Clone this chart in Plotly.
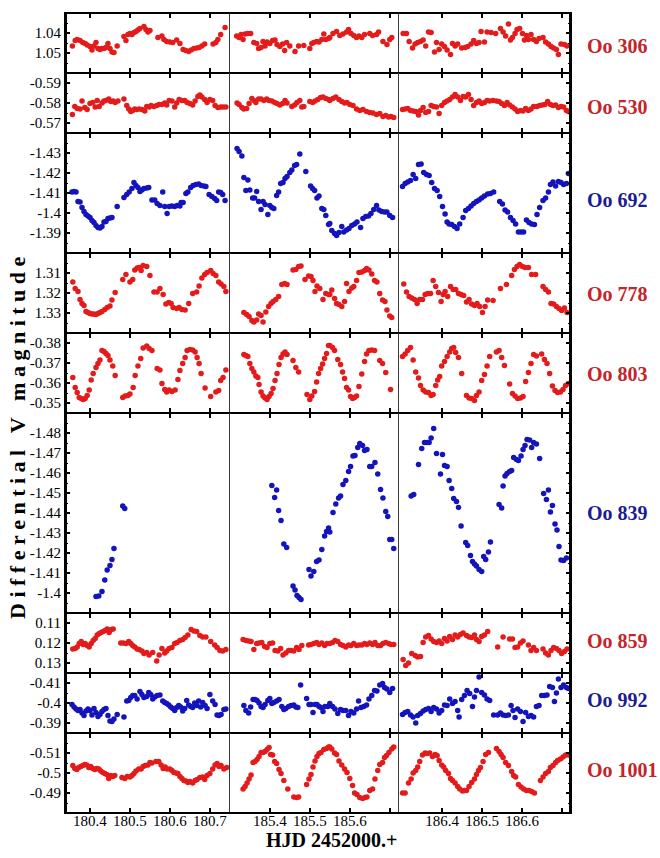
import plotly.graph_objects as go
from plotly.subplots import make_subplots

# ---------------- data: (HJD - 2452000, differential V magnitude) ----------------
OO306 = [(180.356,1.0465),(180.363,1.0438),(180.368,1.0432),(180.375,1.0438),(180.382,1.0448),(180.388,1.0453),(180.393,1.046),(180.4,1.0468),(180.405,1.0485),(180.41,1.0465),(180.415,1.0448),(180.42,1.0478),(180.425,1.0482),(180.43,1.0477),(180.435,1.0478),(180.44,1.0472),(180.445,1.0452),(180.45,1.0477),(180.455,1.0495),(180.46,1.0498),(180.468,1.0465),(180.485,1.0418),(180.49,1.0438),(180.495,1.0408),(180.5,1.0402),(180.505,1.0408),(180.51,1.0398),(180.515,1.0392),(180.52,1.0385),(180.525,1.0378),(180.535,1.0368),(180.54,1.0382),(180.545,1.0395),(180.55,1.0388),(180.57,1.0422),(180.58,1.0415),(180.585,1.0432),(180.592,1.0442),(180.6,1.0445),(180.607,1.0448),(180.617,1.0435),(180.625,1.0452),(180.633,1.0482),(180.64,1.0488),(180.647,1.0492),(180.653,1.0485),(180.66,1.0478),(180.667,1.0475),(180.673,1.0472),(180.68,1.0465),(180.687,1.0455),(180.708,1.0455),(180.715,1.0448),(180.72,1.0432),(180.727,1.0408),(180.738,1.0372),
(185.317,1.0415),(185.323,1.0422),(185.328,1.0408),(185.333,1.0432),(185.338,1.0405),(185.345,1.0402),(185.352,1.0402),(185.36,1.0448),(185.367,1.0452),(185.372,1.0478),(185.378,1.0472),(185.383,1.0442),(185.388,1.0465),(185.393,1.0445),(185.4,1.0452),(185.407,1.0438),(185.413,1.0435),(185.418,1.0458),(185.425,1.0468),(185.432,1.0455),(185.437,1.0488),(185.442,1.0448),(185.45,1.0465),(185.463,1.0492),(185.472,1.0465),(185.485,1.0462),(185.5,1.0478),(185.505,1.0452),(185.51,1.0448),(185.517,1.0442),(185.523,1.0445),(185.53,1.0432),(185.535,1.0405),(185.54,1.0432),(185.547,1.0427),(185.55,1.0422),(185.558,1.0402),(185.567,1.0392),(185.575,1.0412),(185.583,1.0405),(185.592,1.0395),(185.597,1.0382),(185.603,1.0402),(185.61,1.0412),(185.617,1.0422),(185.623,1.0415),(185.63,1.0422),(185.637,1.0408),(185.65,1.0402),(185.657,1.0412),(185.667,1.0408),(185.672,1.0395),(185.683,1.0442),(185.693,1.0458),(185.7,1.0432),(185.705,1.0422),
(186.3025,1.0402),(186.311,1.0402),(186.3175,1.0442),(186.326,1.0475),(186.3325,1.0455),(186.339,1.0448),(186.346,1.0442),(186.3525,1.0435),(186.359,1.0465),(186.366,1.0395),(186.3725,1.0398),(186.381,1.0495),(186.386,1.0448),(186.3925,1.0482),(186.399,1.0455),(186.406,1.0468),(186.4125,1.0485),(186.421,1.0508),(186.426,1.0452),(186.4325,1.0465),(186.439,1.0455),(186.449,1.0475),(186.4575,1.0472),(186.464,1.0468),(186.4725,1.0455),(186.479,1.0438),(186.486,1.0452),(186.4925,1.0448),(186.4975,1.0392),(186.506,1.0445),(186.5125,1.0395),(186.5225,1.0398),(186.534,1.0402),(186.546,1.0378),(186.5525,1.0395),(186.559,1.0415),(186.566,1.0355),(186.571,1.0435),(186.576,1.0422),(186.5825,1.0402),(186.5875,1.0382),(186.594,1.0378),(186.601,1.0402),(186.606,1.0435),(186.611,1.0412),(186.616,1.0432),(186.6225,1.0408),(186.629,1.0432),(186.636,1.0442),(186.6425,1.0428),(186.6525,1.0422),(186.659,1.0445),(186.666,1.0455),(186.6725,1.0468),(186.679,1.0475),(186.686,1.0482),(186.691,1.0508),(186.6975,1.0455),(186.706,1.0458),(186.7125,1.0465)]

OO530 = [(180.356,-0.5743),(180.362,-0.5783),(180.368,-0.5773),(180.375,-0.577),(180.38,-0.581),(180.387,-0.5777),(180.393,-0.5767),(180.4,-0.5797),(180.407,-0.5803),(180.413,-0.578),(180.418,-0.5813),(180.423,-0.5783),(180.43,-0.58),(180.435,-0.581),(180.44,-0.5813),(180.447,-0.582),(180.452,-0.5807),(180.458,-0.581),(180.463,-0.5803),(180.47,-0.581),(180.485,-0.582),(180.492,-0.5787),(180.497,-0.577),(180.502,-0.5757),(180.507,-0.5763),(180.512,-0.577),(180.517,-0.5767),(180.523,-0.577),(180.53,-0.5767),(180.537,-0.576),(180.542,-0.5783),(180.548,-0.578),(180.553,-0.5787),(180.56,-0.5783),(180.567,-0.5787),(180.573,-0.5793),(180.58,-0.5793),(180.587,-0.58),(180.592,-0.579),(180.598,-0.5813),(180.605,-0.581),(180.612,-0.578),(180.617,-0.58),(180.623,-0.5817),(180.63,-0.5813),(180.637,-0.5813),(180.643,-0.5803),(180.65,-0.5797),(180.657,-0.579),(180.663,-0.581),(180.67,-0.5833),(180.675,-0.584),(180.68,-0.583),(180.687,-0.5817),(180.693,-0.5803),(180.7,-0.5817),(180.707,-0.5813),(180.713,-0.5787),(180.72,-0.5777),(180.727,-0.578),(180.733,-0.578),(180.74,-0.578),
(185.318,-0.58),(185.323,-0.5793),(185.33,-0.5777),(185.335,-0.577),(185.342,-0.5773),(185.348,-0.5797),(185.355,-0.5823),(185.36,-0.5813),(185.365,-0.5803),(185.372,-0.582),(185.378,-0.582),(185.385,-0.5813),(185.392,-0.582),(185.398,-0.5813),(185.405,-0.581),(185.412,-0.5803),(185.418,-0.5797),(185.425,-0.579),(185.432,-0.5797),(185.438,-0.5813),(185.443,-0.58),(185.455,-0.5783),(185.462,-0.579),(185.468,-0.5803),(185.475,-0.5813),(185.48,-0.578),(185.485,-0.5783),(185.5,-0.5807),(185.507,-0.5803),(185.513,-0.581),(185.52,-0.5817),(185.527,-0.5827),(185.533,-0.583),(185.54,-0.5823),(185.547,-0.5817),(185.55,-0.5813),(185.558,-0.5823),(185.565,-0.583),(185.573,-0.5817),(185.58,-0.5807),(185.587,-0.58),(185.593,-0.5803),(185.6,-0.5793),(185.608,-0.5787),(185.617,-0.577),(185.625,-0.5763),(185.633,-0.5767),(185.642,-0.5757),(185.65,-0.5753),(185.658,-0.575),(185.667,-0.5743),(185.675,-0.5747),(185.683,-0.5733),(185.69,-0.5737),(185.697,-0.573),(185.703,-0.5733),(185.71,-0.5727),
(186.301,-0.5767),(186.3075,-0.577),(186.314,-0.5773),(186.321,-0.5763),(186.3275,-0.576),(186.334,-0.5757),(186.341,-0.574),(186.346,-0.5763),(186.3525,-0.5777),(186.359,-0.5753),(186.366,-0.5757),(186.3725,-0.5787),(186.379,-0.5783),(186.386,-0.578),(186.3925,-0.5747),(186.399,-0.5787),(186.406,-0.5803),(186.4125,-0.581),(186.419,-0.5817),(186.426,-0.583),(186.4325,-0.5843),(186.439,-0.583),(186.446,-0.5813),(186.4525,-0.5833),(186.459,-0.583),(186.466,-0.5843),(186.4725,-0.5817),(186.479,-0.5787),(186.486,-0.5803),(186.4925,-0.581),(186.499,-0.5797),(186.506,-0.5803),(186.5125,-0.5813),(186.519,-0.581),(186.5275,-0.5813),(186.536,-0.581),(186.5425,-0.5807),(186.549,-0.5797),(186.556,-0.5787),(186.5625,-0.5803),(186.569,-0.579),(186.576,-0.578),(186.5825,-0.577),(186.589,-0.5757),(186.596,-0.5763),(186.6025,-0.576),(186.609,-0.5773),(186.616,-0.5763),(186.6225,-0.577),(186.629,-0.5783),(186.6375,-0.5783),(186.644,-0.5787),(186.651,-0.579),(186.6575,-0.5793),(186.664,-0.5807),(186.671,-0.5793),(186.6775,-0.5787),(186.684,-0.579),(186.691,-0.5777),(186.6975,-0.5783),(186.704,-0.578),(186.711,-0.5763),(186.716,-0.5757)]

OO692 = [(180.355,-1.4105),(180.36,-1.4108),(180.365,-1.4105),(180.37,-1.4058),(180.375,-1.4055),(180.38,-1.4028),(180.385,-1.4008),(180.39,-1.3992),(180.395,-1.3985),(180.4,-1.3978),(180.405,-1.3962),(180.41,-1.3952),(180.415,-1.3938),(180.42,-1.3928),(180.425,-1.3925),(180.43,-1.3932),(180.435,-1.3955),(180.44,-1.3958),(180.445,-1.3972),(180.45,-1.3975),(180.455,-1.3978),(180.468,-1.4032),(180.485,-1.4078),(180.492,-1.4092),(180.498,-1.4105),(180.505,-1.4122),(180.51,-1.4152),(180.515,-1.4138),(180.52,-1.4128),(180.525,-1.4108),(180.53,-1.4115),(180.535,-1.4122),(180.542,-1.4125),(180.547,-1.4128),(180.555,-1.4065),(180.562,-1.4065),(180.568,-1.4048),(180.575,-1.4038),(180.582,-1.4105),(180.587,-1.4032),(180.593,-1.3998),(180.598,-1.4032),(180.605,-1.4035),(180.612,-1.4032),(180.618,-1.4038),(180.625,-1.4035),(180.628,-1.4052),(180.633,-1.4052),(180.64,-1.4098),(180.645,-1.4105),(180.652,-1.4128),(180.658,-1.4138),(180.665,-1.4142),(180.672,-1.4145),(180.678,-1.4138),(180.685,-1.4135),(180.69,-1.4132),(180.698,-1.4092),(180.705,-1.4082),(180.712,-1.4072),(180.717,-1.4062),(180.722,-1.4105),(180.727,-1.4102),(180.732,-1.4092),(180.738,-1.4062),
(185.318,-1.4322),(185.323,-1.4308),(185.33,-1.4285),(185.335,-1.4178),(185.34,-1.4112),(185.345,-1.4165),(185.35,-1.4115),(185.357,-1.4075),(185.362,-1.4075),(185.367,-1.4108),(185.372,-1.4058),(185.378,-1.4018),(185.383,-1.4058),(185.388,-1.4042),(185.395,-1.3992),(185.4,-1.4038),(185.405,-1.4028),(185.41,-1.4022),(185.417,-1.4088),(185.422,-1.4105),(185.427,-1.4148),(185.433,-1.4152),(185.438,-1.4172),(185.443,-1.4182),(185.45,-1.4202),(185.455,-1.4215),(185.462,-1.4238),(185.467,-1.4242),(185.475,-1.4295),(185.49,-1.4208),(185.502,-1.4135),(185.507,-1.4122),(185.512,-1.4112),(185.518,-1.4075),(185.523,-1.4085),(185.53,-1.4022),(185.535,-1.4018),(185.54,-1.3988),(185.547,-1.3942),(185.55,-1.3948),(185.555,-1.3912),(185.562,-1.3898),(185.567,-1.3888),(185.573,-1.3902),(185.58,-1.3932),(185.585,-1.3905),(185.592,-1.3915),(185.598,-1.3922),(185.605,-1.3938),(185.612,-1.3945),(185.618,-1.3955),(185.627,-1.3928),(185.633,-1.3972),(185.64,-1.3982),(185.647,-1.3985),(185.653,-1.3998),(185.66,-1.4018),(185.667,-1.4038),(185.673,-1.4015),(185.68,-1.4008),(185.687,-1.4005),(185.693,-1.4005),(185.7,-1.3988),(185.707,-1.3978),
(186.301,-1.4132),(186.3075,-1.4148),(186.314,-1.4155),(186.321,-1.4162),(186.3275,-1.4192),(186.334,-1.4172),(186.341,-1.4242),(186.3475,-1.4245),(186.354,-1.4202),(186.361,-1.4192),(186.3675,-1.4188),(186.374,-1.4152),(186.381,-1.4122),(186.3875,-1.4112),(186.394,-1.4082),(186.401,-1.4032),(186.4075,-1.3995),(186.4125,-1.3955),(186.4175,-1.3945),(186.424,-1.3942),(186.431,-1.3932),(186.4375,-1.3922),(186.444,-1.3945),(186.4525,-1.3978),(186.459,-1.4012),(186.466,-1.4022),(186.4725,-1.4035),(186.479,-1.4048),(186.486,-1.4058),(186.4925,-1.4065),(186.499,-1.4075),(186.506,-1.4085),(186.514,-1.4095),(186.521,-1.4098),(186.529,-1.4105),(186.544,-1.4058),(186.551,-1.4045),(186.5575,-1.4015),(186.564,-1.4005),(186.571,-1.3978),(186.5775,-1.3962),(186.584,-1.3945),(186.591,-1.3905),(186.5975,-1.3905),(186.604,-1.3905),(186.611,-1.3965),(186.6175,-1.3952),(186.624,-1.3945),(186.631,-1.3942),(186.6375,-1.3992),(186.644,-1.4028),(186.6525,-1.4062),(186.659,-1.4075),(186.666,-1.4105),(186.671,-1.4142),(186.6775,-1.4155),(186.684,-1.4135),(186.691,-1.4158),(186.6975,-1.4152),(186.704,-1.4142),(186.711,-1.4148),(186.716,-1.4198)]

OO778 = [(180.357,1.3145),(180.363,1.3178),(180.37,1.3192),(180.375,1.3232),(180.38,1.3252),(180.385,1.3262),(180.39,1.3292),(180.395,1.3298),(180.4,1.3302),(180.405,1.3305),(180.41,1.3305),(180.415,1.3308),(180.42,1.3302),(180.425,1.3298),(180.43,1.3292),(180.437,1.3282),(180.443,1.3272),(180.45,1.3265),(180.455,1.3235),(180.463,1.3198),(180.482,1.3132),(180.49,1.3108),(180.5,1.3145),(180.507,1.3132),(180.512,1.3085),(180.518,1.3075),(180.523,1.3072),(180.528,1.3088),(180.533,1.3062),(180.542,1.3068),(180.55,1.3112),(180.56,1.3195),(180.568,1.3195),(180.575,1.3178),(180.583,1.3208),(180.59,1.3255),(180.597,1.3248),(180.603,1.3252),(180.608,1.3272),(180.617,1.3278),(180.623,1.3272),(180.63,1.3282),(180.638,1.3285),(180.647,1.3252),(180.657,1.3202),(180.667,1.3195),(180.673,1.3165),(180.68,1.3125),(180.687,1.3108),(180.693,1.3098),(180.702,1.3088),(180.708,1.3102),(180.715,1.3112),(180.722,1.3145),(180.728,1.3155),(180.735,1.3168),(180.74,1.3192),
(185.335,1.3298),(185.342,1.3308),(185.348,1.3318),(185.355,1.3338),(185.36,1.3345),(185.367,1.3335),(185.372,1.3305),(185.378,1.3312),(185.383,1.3345),(185.39,1.3295),(185.397,1.3268),(185.403,1.3252),(185.408,1.3242),(185.415,1.3232),(185.422,1.3218),(185.43,1.3158),(185.437,1.3152),(185.443,1.3158),(185.458,1.3085),(185.465,1.3082),(185.472,1.3068),(185.478,1.3065),(185.488,1.3132),(185.497,1.3115),(185.503,1.3118),(185.508,1.3138),(185.513,1.3192),(185.518,1.3165),(185.525,1.3178),(185.533,1.3232),(185.54,1.3202),(185.547,1.3208),(185.55,1.3208),(185.555,1.3185),(185.562,1.3228),(185.567,1.3252),(185.573,1.3258),(185.58,1.3268),(185.587,1.3242),(185.592,1.3152),(185.598,1.3192),(185.605,1.3175),(185.61,1.3168),(185.617,1.3138),(185.623,1.3098),(185.63,1.3095),(185.637,1.3088),(185.642,1.3078),(185.648,1.3085),(185.655,1.3105),(185.662,1.3138),(185.668,1.3145),(185.675,1.3202),(185.682,1.3235),(185.688,1.3242),(185.693,1.3285),(185.7,1.3315),(185.705,1.3322),
(186.304,1.3155),(186.311,1.3195),(186.3175,1.3218),(186.324,1.3225),(186.331,1.3232),(186.3375,1.3252),(186.344,1.3232),(186.351,1.3232),(186.3575,1.3208),(186.364,1.3202),(186.371,1.3202),(186.3775,1.3138),(186.384,1.3168),(186.391,1.3198),(186.3975,1.3242),(186.4025,1.3208),(186.4075,1.3192),(186.414,1.3218),(186.421,1.3168),(186.4275,1.3182),(186.434,1.3182),(186.441,1.3202),(186.4475,1.3208),(186.454,1.3212),(186.461,1.3245),(186.4675,1.3232),(186.474,1.3255),(186.481,1.3262),(186.4875,1.3252),(186.494,1.3268),(186.501,1.3298),(186.5075,1.3268),(186.514,1.3235),(186.5275,1.3238),(186.546,1.3178),(186.561,1.3158),(186.574,1.3112),(186.581,1.3082),(186.5875,1.3068),(186.594,1.3058),(186.601,1.3068),(186.6075,1.3072),(186.616,1.3072),(186.624,1.3108),(186.634,1.3108),(186.6525,1.3168),(186.659,1.3182),(186.666,1.3195),(186.6725,1.3252),(186.679,1.3255),(186.686,1.3268),(186.6925,1.3278),(186.699,1.3288),(186.706,1.3275),(186.7125,1.3298)]

OO803 = [(180.357,-0.3628),(180.363,-0.3578),(180.368,-0.3552),(180.373,-0.3528),(180.378,-0.3522),(180.383,-0.3518),(180.388,-0.3522),(180.393,-0.3538),(180.398,-0.3565),(180.403,-0.3615),(180.408,-0.3648),(180.415,-0.3678),(180.42,-0.3698),(180.425,-0.3715),(180.43,-0.3762),(180.435,-0.3758),(180.44,-0.3748),(180.445,-0.3738),(180.45,-0.3715),(180.457,-0.3685),(180.463,-0.3638),(180.482,-0.3528),(180.488,-0.3535),(180.495,-0.3538),(180.5,-0.3545),(180.508,-0.3578),(180.513,-0.3638),(180.52,-0.3685),(180.527,-0.3722),(180.533,-0.3775),(180.542,-0.3785),(180.548,-0.3772),(180.555,-0.3762),(180.568,-0.3672),(180.575,-0.3665),(180.58,-0.3598),(180.587,-0.3568),(180.592,-0.3555),(180.598,-0.3565),(180.605,-0.3558),(180.613,-0.3565),(180.62,-0.3618),(180.625,-0.3662),(180.632,-0.3698),(180.638,-0.3728),(180.643,-0.3762),(180.65,-0.3768),(180.657,-0.3765),(180.663,-0.3755),(180.668,-0.3728),(180.673,-0.3698),(180.678,-0.3648),(180.688,-0.3575),(180.702,-0.3532),(180.715,-0.3555),(180.722,-0.3562),(180.727,-0.3612),(180.733,-0.3628),(180.74,-0.3665),
(185.335,-0.3742),(185.34,-0.3738),(185.345,-0.3732),(185.35,-0.3698),(185.355,-0.3672),(185.36,-0.3655),(185.365,-0.3635),(185.37,-0.3628),(185.373,-0.3592),(185.378,-0.3555),(185.383,-0.3535),(185.388,-0.3525),(185.393,-0.3518),(185.398,-0.3532),(185.403,-0.3548),(185.408,-0.3572),(185.413,-0.3612),(185.418,-0.3648),(185.423,-0.3692),(185.428,-0.3728),(185.433,-0.3745),(185.438,-0.3755),(185.443,-0.3742),(185.458,-0.3712),(185.465,-0.3678),(185.472,-0.3655),(185.493,-0.3542),(185.5,-0.3518),(185.505,-0.3535),(185.512,-0.3558),(185.517,-0.3605),(185.522,-0.3648),(185.527,-0.3672),(185.532,-0.3695),(185.537,-0.3722),(185.542,-0.3748),(185.547,-0.3788),(185.55,-0.3788),(185.557,-0.3778),(185.562,-0.3762),(185.57,-0.3718),(185.577,-0.3692),(185.582,-0.3655),(185.587,-0.3622),(185.592,-0.3578),(185.597,-0.3565),(185.602,-0.3532),(185.607,-0.3523),(185.612,-0.3528),(185.617,-0.3535),(185.623,-0.3582),(185.63,-0.3645),(185.637,-0.3708),(185.642,-0.3745),(185.648,-0.3762),(185.655,-0.3765),(185.662,-0.3762),(185.675,-0.3712),(185.682,-0.3698),(185.69,-0.3652),(185.702,-0.3568),
(186.301,-0.3732),(186.3075,-0.3745),(186.314,-0.3762),(186.321,-0.3778),(186.3275,-0.3715),(186.334,-0.3655),(186.341,-0.3625),(186.346,-0.3588),(186.3525,-0.3565),(186.359,-0.3555),(186.366,-0.3552),(186.3725,-0.3538),(186.3775,-0.3542),(186.384,-0.3588),(186.389,-0.3615),(186.394,-0.3632),(186.399,-0.3685),(186.406,-0.3708),(186.4125,-0.3732),(186.419,-0.3755),(186.424,-0.3772),(186.429,-0.3778),(186.434,-0.3752),(186.441,-0.3728),(186.449,-0.3648),(186.461,-0.3538),(186.4675,-0.3525),(186.474,-0.3522),(186.481,-0.3512),(186.486,-0.3538),(186.4925,-0.3555),(186.499,-0.3612),(186.506,-0.3642),(186.5125,-0.3685),(186.519,-0.3732),(186.536,-0.3755),(186.5425,-0.3762),(186.549,-0.3728),(186.556,-0.3688),(186.569,-0.3595),(186.576,-0.3548),(186.5825,-0.3535),(186.589,-0.3522),(186.596,-0.3525),(186.6025,-0.3532),(186.609,-0.3608),(186.616,-0.3652),(186.6225,-0.3698),(186.629,-0.3742),(186.636,-0.3735),(186.649,-0.3745),(186.656,-0.3718),(186.6625,-0.3698),(186.669,-0.3648),(186.676,-0.3585),(186.6825,-0.3562),(186.689,-0.3552),(186.696,-0.3555),(186.7025,-0.3568),(186.709,-0.3588),(186.716,-0.3598)]

OO839 = [(180.415,-1.3982),(180.422,-1.3985),(180.43,-1.4008),(180.437,-1.4065),(180.443,-1.4115),(180.45,-1.4138),(180.455,-1.4168),(180.46,-1.4222),(180.482,-1.4435),(180.487,-1.4422),
(185.405,-1.4538),(185.412,-1.4478),(185.417,-1.4515),(185.422,-1.4412),(185.428,-1.4362),(185.435,-1.4245),(185.442,-1.4228),(185.458,-1.4035),(185.463,-1.4015),(185.468,-1.3988),(185.473,-1.3978),(185.478,-1.3968),(185.498,-1.4118),(185.503,-1.4085),(185.51,-1.4108),(185.517,-1.4158),(185.523,-1.4165),(185.53,-1.4218),(185.537,-1.4285),(185.542,-1.4308),(185.547,-1.4325),(185.55,-1.4305),(185.558,-1.4402),(185.565,-1.4445),(185.572,-1.4475),(185.577,-1.4485),(185.583,-1.4542),(185.59,-1.4562),(185.597,-1.4608),(185.602,-1.4632),(185.608,-1.4685),(185.613,-1.4688),(185.62,-1.4728),(185.625,-1.4748),(185.632,-1.4738),(185.637,-1.4712),(185.643,-1.4718),(185.65,-1.4632),(185.655,-1.4632),(185.663,-1.4652),(185.67,-1.4595),(185.677,-1.4518),(185.683,-1.4475),(185.69,-1.4408),(185.695,-1.4382),(185.7,-1.4268),(185.705,-1.4268),(185.71,-1.4222),
(186.3225,-1.4485),(186.329,-1.4492),(186.341,-1.4642),(186.349,-1.4722),(186.356,-1.4752),(186.3625,-1.4752),(186.3675,-1.4752),(186.3725,-1.4775),(186.379,-1.4822),(186.386,-1.4698),(186.396,-1.4595),(186.401,-1.4692),(186.406,-1.4638),(186.4125,-1.4632),(186.4175,-1.4562),(186.424,-1.4522),(186.429,-1.4472),(186.436,-1.4458),(186.441,-1.4428),(186.4475,-1.4335),(186.459,-1.4252),(186.464,-1.4238),(186.471,-1.4188),(186.476,-1.4158),(186.481,-1.4145),(186.486,-1.4135),(186.4925,-1.4118),(186.499,-1.4108),(186.504,-1.4182),(186.509,-1.4168),(186.516,-1.4205),(186.521,-1.4255),(186.5425,-1.4442),(186.549,-1.4425),(186.5525,-1.4535),(186.5575,-1.4585),(186.5625,-1.4598),(186.569,-1.4608),(186.574,-1.4612),(186.579,-1.4678),(186.586,-1.4668),(186.591,-1.4662),(186.5975,-1.4685),(186.6025,-1.4718),(186.6075,-1.4738),(186.6125,-1.4768),(186.619,-1.4765),(186.624,-1.4728),(186.629,-1.4752),(186.636,-1.4745),(186.644,-1.4672),(186.654,-1.4498),(186.661,-1.4468),(186.666,-1.4515),(186.671,-1.4405),(186.676,-1.4438),(186.6825,-1.4345),(186.6875,-1.4315),(186.6925,-1.4232),(186.6975,-1.4165),(186.704,-1.4162),(186.711,-1.4175)]

OO859 = [(180.357,0.123),(180.363,0.1227),(180.368,0.122),(180.373,0.1203),(180.378,0.1193),(180.383,0.1207),(180.388,0.1203),(180.393,0.1213),(180.398,0.122),(180.403,0.1203),(180.408,0.1187),(180.413,0.1177),(180.418,0.116),(180.423,0.1153),(180.428,0.1147),(180.433,0.1143),(180.438,0.1137),(180.443,0.113),(180.448,0.1147),(180.453,0.1133),(180.458,0.113),(180.477,0.12),(180.483,0.12),(180.49,0.1203),(180.497,0.1193),(180.502,0.1203),(180.507,0.1213),(180.512,0.122),(180.518,0.123),(180.523,0.1233),(180.53,0.124),(180.535,0.1253),(180.542,0.1247),(180.548,0.126),(180.557,0.1247),(180.567,0.129),(180.573,0.126),(180.58,0.1227),(180.587,0.125),(180.592,0.124),(180.598,0.1227),(180.605,0.1223),(180.612,0.1203),(180.618,0.1197),(180.625,0.1187),(180.632,0.1183),(180.638,0.1173),(180.645,0.116),(180.653,0.1133),(180.66,0.114),(180.667,0.1143),(180.675,0.1163),(180.682,0.117),(180.69,0.117),(180.702,0.1193),(180.712,0.121),(180.718,0.1223),(180.725,0.1237),(180.732,0.124),(180.74,0.1233),
(185.333,0.1183),(185.34,0.1187),(185.347,0.119),(185.353,0.1193),(185.36,0.1233),(185.367,0.1203),(185.373,0.12),(185.38,0.1197),(185.387,0.1217),(185.393,0.1223),(185.4,0.1203),(185.407,0.12),(185.413,0.1237),(185.42,0.124),(185.427,0.1227),(185.433,0.126),(185.44,0.125),(185.447,0.1237),(185.453,0.1237),(185.46,0.124),(185.467,0.1223),(185.473,0.1233),(185.48,0.1213),(185.497,0.121),(185.503,0.1207),(185.51,0.1203),(185.517,0.1197),(185.523,0.1207),(185.53,0.12),(185.537,0.1213),(185.543,0.1203),(185.55,0.1203),(185.557,0.1197),(185.563,0.1187),(185.57,0.1193),(185.577,0.1207),(185.583,0.1213),(185.59,0.122),(185.597,0.121),(185.603,0.1213),(185.61,0.1203),(185.617,0.1213),(185.623,0.121),(185.63,0.121),(185.637,0.1203),(185.643,0.1207),(185.65,0.12),(185.657,0.1207),(185.663,0.1197),(185.67,0.1213),(185.677,0.1213),(185.683,0.1203),(185.69,0.1197),(185.697,0.1203),(185.703,0.1207),(185.71,0.1207),
(186.3025,0.1283),(186.309,0.1313),(186.316,0.13),(186.324,0.1253),(186.3325,0.1263),(186.339,0.127),(186.346,0.1267),(186.3525,0.1197),(186.359,0.117),(186.366,0.1163),(186.3725,0.118),(186.379,0.1193),(186.386,0.1197),(186.3925,0.119),(186.399,0.1203),(186.406,0.1177),(186.4125,0.119),(186.419,0.1167),(186.426,0.1183),(186.4325,0.116),(186.439,0.117),(186.446,0.1157),(186.4525,0.115),(186.461,0.1163),(186.4675,0.117),(186.474,0.1173),(186.481,0.116),(186.486,0.1183),(186.4925,0.1193),(186.499,0.1167),(186.506,0.116),(186.514,0.1143),(186.539,0.122),(186.5525,0.117),(186.569,0.118),(186.576,0.118),(186.5825,0.1223),(186.589,0.122),(186.596,0.12),(186.6025,0.119),(186.616,0.121),(186.6225,0.1237),(186.629,0.1223),(186.636,0.1237),(186.6525,0.123),(186.659,0.125),(186.666,0.126),(186.6725,0.1237),(186.679,0.1223),(186.686,0.1227),(186.6925,0.1237),(186.699,0.1253),(186.706,0.1243),(186.7125,0.123)]

OO992 = [(180.355,-0.3993),(180.36,-0.398),(180.365,-0.397),(180.37,-0.3963),(180.375,-0.3967),(180.38,-0.395),(180.385,-0.3937),(180.39,-0.396),(180.395,-0.397),(180.4,-0.3963),(180.405,-0.394),(180.41,-0.3973),(180.415,-0.3953),(180.42,-0.3933),(180.425,-0.3943),(180.43,-0.3957),(180.435,-0.3967),(180.44,-0.3973),(180.445,-0.3937),(180.45,-0.391),(180.455,-0.3907),(180.46,-0.392),(180.468,-0.3943),(180.485,-0.393),(180.492,-0.401),(180.497,-0.4013),(180.502,-0.4027),(180.507,-0.4037),(180.512,-0.4037),(180.518,-0.402),(180.525,-0.4057),(180.53,-0.4043),(180.535,-0.4027),(180.542,-0.4033),(180.547,-0.4053),(180.552,-0.4043),(180.557,-0.402),(180.562,-0.403),(180.568,-0.4037),(180.575,-0.404),(180.582,-0.401),(180.587,-0.4003),(180.592,-0.3997),(180.597,-0.399),(180.602,-0.398),(180.607,-0.3973),(180.612,-0.3963),(180.617,-0.3977),(180.622,-0.3987),(180.627,-0.398),(180.632,-0.396),(180.637,-0.3973),(180.642,-0.4013),(180.647,-0.399),(180.652,-0.3983),(180.657,-0.3977),(180.662,-0.4),(180.667,-0.3987),(180.672,-0.401),(180.677,-0.398),(180.682,-0.4003),(180.688,-0.3987),(180.693,-0.3973),(180.7,-0.4043),(180.707,-0.401),(180.713,-0.3993),(180.718,-0.394),(180.723,-0.3937),(180.728,-0.3943),(180.735,-0.3967),(180.74,-0.397),
(185.335,-0.3987),(185.34,-0.3963),(185.347,-0.395),(185.352,-0.398),(185.358,-0.4017),(185.363,-0.4017),(185.368,-0.4013),(185.373,-0.4),(185.378,-0.3983),(185.383,-0.3977),(185.388,-0.3993),(185.395,-0.4013),(185.4,-0.4023),(185.405,-0.3997),(185.41,-0.4003),(185.417,-0.401),(185.423,-0.4017),(185.43,-0.3983),(185.435,-0.3967),(185.44,-0.3973),(185.447,-0.3983),(185.453,-0.3987),(185.46,-0.399),(185.465,-0.398),(185.47,-0.3977),(185.477,-0.409),(185.492,-0.4023),(185.498,-0.3993),(185.503,-0.3993),(185.508,-0.3953),(185.513,-0.3993),(185.518,-0.3993),(185.523,-0.3983),(185.528,-0.3977),(185.533,-0.3957),(185.538,-0.3983),(185.545,-0.3983),(185.55,-0.3997),(185.557,-0.3983),(185.563,-0.397),(185.57,-0.3947),(185.577,-0.3967),(185.583,-0.3963),(185.59,-0.3963),(185.597,-0.3937),(185.603,-0.3957),(185.61,-0.395),(185.617,-0.397),(185.622,-0.401),(185.628,-0.3977),(185.635,-0.3983),(185.642,-0.399),(185.648,-0.402),(185.655,-0.4037),(185.662,-0.4063),(185.668,-0.406),(185.675,-0.409),(185.682,-0.4097),(185.687,-0.4077),(185.693,-0.407),(185.7,-0.4053),(185.707,-0.4073),
(186.301,-0.3943),(186.3075,-0.3953),(186.314,-0.3957),(186.321,-0.394),(186.3275,-0.393),(186.334,-0.39),(186.339,-0.3937),(186.346,-0.3947),(186.3525,-0.396),(186.359,-0.3967),(186.366,-0.3973),(186.3725,-0.3957),(186.379,-0.3977),(186.386,-0.397),(186.3925,-0.395),(186.399,-0.3963),(186.406,-0.399),(186.4125,-0.3987),(186.419,-0.402),(186.426,-0.3997),(186.4325,-0.4007),(186.439,-0.3963),(186.4425,-0.393),(186.449,-0.4017),(186.456,-0.4037),(186.4625,-0.4063),(186.469,-0.4047),(186.476,-0.3983),(186.481,-0.403),(186.486,-0.4063),(186.4925,-0.413),(186.499,-0.4053),(186.506,-0.404),(186.5125,-0.402),(186.519,-0.4013),(186.529,-0.394),(186.539,-0.394),(186.546,-0.395),(186.5525,-0.394),(186.559,-0.3937),(186.566,-0.394),(186.5725,-0.3987),(186.5775,-0.3963),(186.5825,-0.3927),(186.589,-0.397),(186.596,-0.3957),(186.6025,-0.3907),(186.609,-0.3953),(186.616,-0.3933),(186.6225,-0.3937),(186.629,-0.393),(186.636,-0.3983),(186.6425,-0.3987),(186.649,-0.4037),(186.656,-0.4037),(186.6625,-0.404),(186.669,-0.4083),(186.676,-0.4077),(186.681,-0.4007),(186.686,-0.405),(186.691,-0.412),(186.6975,-0.4077),(186.704,-0.409),(186.711,-0.4077),(186.716,-0.4073)]

OO1001 = [(180.357,-0.5037),(180.362,-0.5023),(180.367,-0.5017),(180.372,-0.5027),(180.377,-0.5033),(180.382,-0.5037),(180.387,-0.5043),(180.392,-0.504),(180.397,-0.5027),(180.402,-0.5033),(180.407,-0.5023),(180.412,-0.5017),(180.417,-0.5023),(180.422,-0.502),(180.427,-0.501),(180.432,-0.5003),(180.437,-0.4997),(180.442,-0.4993),(180.447,-0.4973),(180.452,-0.4987),(180.457,-0.4983),(180.462,-0.4987),(180.48,-0.4977),(180.487,-0.4973),(180.493,-0.4983),(180.5,-0.498),(180.505,-0.4987),(180.51,-0.4997),(180.515,-0.501),(180.522,-0.502),(180.528,-0.502),(180.533,-0.5033),(180.538,-0.5037),(180.545,-0.504),(180.55,-0.5053),(180.555,-0.505),(180.565,-0.5057),(180.572,-0.5057),(180.578,-0.504),(180.583,-0.5023),(180.588,-0.503),(180.593,-0.502),(180.6,-0.502),(180.605,-0.5013),(180.61,-0.5003),(180.615,-0.5),(180.62,-0.4997),(180.625,-0.4983),(180.63,-0.4973),(180.635,-0.4963),(180.64,-0.496),(180.645,-0.4953),(180.65,-0.4957),(180.657,-0.495),(180.663,-0.4963),(180.668,-0.4967),(180.675,-0.4977),(180.682,-0.498),(180.687,-0.4967),(180.693,-0.4987),(180.7,-0.4997),(180.707,-0.502),(180.713,-0.504),(180.718,-0.5047),(180.723,-0.5033),(180.728,-0.5037),(180.735,-0.502),(180.742,-0.5027),
(185.333,-0.492),(185.338,-0.4933),(185.343,-0.495),(185.348,-0.497),(185.353,-0.499),(185.358,-0.5053),(185.363,-0.5057),(185.368,-0.5067),(185.373,-0.5083),(185.378,-0.5103),(185.383,-0.5103),(185.388,-0.5107),(185.393,-0.5117),(185.398,-0.5127),(185.402,-0.5093),(185.407,-0.509),(185.412,-0.5057),(185.417,-0.5047),(185.423,-0.5017),(185.428,-0.4997),(185.435,-0.4963),(185.445,-0.492),(185.46,-0.488),(185.467,-0.4877),(185.472,-0.488),(185.492,-0.4943),(185.498,-0.497),(185.503,-0.4993),(185.508,-0.503),(185.513,-0.506),(185.518,-0.5083),(185.523,-0.5097),(185.528,-0.5103),(185.535,-0.5117),(185.542,-0.5123),(185.547,-0.513),(185.55,-0.513),(185.555,-0.512),(185.562,-0.51),(185.567,-0.5093),(185.573,-0.506),(185.58,-0.504),(185.587,-0.502),(185.593,-0.5003),(185.6,-0.4973),(185.607,-0.4937),(185.612,-0.49),(185.618,-0.4893),(185.625,-0.4877),(185.632,-0.4873),(185.638,-0.4877),(185.643,-0.488),(185.65,-0.4913),(185.657,-0.492),(185.663,-0.497),(185.67,-0.5013),(185.675,-0.5043),(185.682,-0.5053),(185.687,-0.5077),(185.692,-0.5087),(185.698,-0.5103),(185.705,-0.512),(185.71,-0.513),
(186.301,-0.49),(186.3075,-0.49),(186.316,-0.495),(186.3225,-0.497),(186.3275,-0.5),(186.334,-0.5013),(186.339,-0.503),(186.344,-0.5057),(186.351,-0.509),(186.3575,-0.51),(186.3625,-0.5097),(186.369,-0.51),(186.3758,-0.5083),(186.3825,-0.5093),(186.3875,-0.5087),(186.3925,-0.5063),(186.399,-0.504),(186.404,-0.503),(186.409,-0.5013),(186.416,-0.4997),(186.421,-0.4973),(186.426,-0.4963),(186.4325,-0.495),(186.439,-0.4933),(186.444,-0.492),(186.451,-0.491),(186.456,-0.4913),(186.461,-0.4913),(186.4675,-0.4933),(186.474,-0.4953),(186.481,-0.497),(186.486,-0.4993),(186.491,-0.5013),(186.496,-0.5027),(186.5025,-0.5057),(186.509,-0.5093),(186.516,-0.5103),(186.536,-0.5123),(186.5425,-0.5107),(186.5475,-0.5093),(186.5525,-0.5077),(186.559,-0.5053),(186.566,-0.5037),(186.574,-0.5007),(186.579,-0.4987),(186.584,-0.498),(186.591,-0.4943),(186.5975,-0.493),(186.604,-0.492),(186.611,-0.4913),(186.6175,-0.4913),(186.624,-0.4907),(186.631,-0.49),(186.646,-0.4963),(186.6525,-0.498),(186.659,-0.4997),(186.666,-0.5007),(186.671,-0.5027),(186.6775,-0.5037),(186.684,-0.5053),(186.689,-0.5063),(186.696,-0.507),(186.7025,-0.508),(186.709,-0.509),(186.716,-0.509)]

STAR_NAMES = ["Oo 306", "Oo 530", "Oo 692", "Oo 778", "Oo 803", "Oo 839", "Oo 859", "Oo 992", "Oo 1001"]
STAR_DATA = [OO306, OO530, OO692, OO778, OO803, OO839, OO859, OO992, OO1001]
STAR_KIND = ["r", "r", "b", "r", "r", "b", "r", "b", "r"]

# y ranges (bottom value, top value): magnitude axes inverted
Y_RANGES = [(1.06, 1.03), (-0.565, -0.595), (-1.38, -1.44), (1.34, 1.30), (-0.345, -0.385),
            (-1.39, -1.49), (0.135, 0.105), (-0.385, -0.415), (-0.48, -0.52)]
Y_TICKS = [[1.04, 1.05], [-0.59, -0.58, -0.57], [-1.43, -1.42, -1.41, -1.40, -1.39],
           [1.31, 1.32, 1.33], [-0.38, -0.37, -0.36, -0.35],
           [-1.48, -1.47, -1.46, -1.45, -1.44, -1.43, -1.42, -1.41, -1.40],
           [0.11, 0.12, 0.13], [-0.41, -0.40, -0.39], [-0.51, -0.50, -0.49]]
ROW_HEIGHTS = [60, 60, 120, 80, 80, 200, 60, 60, 80]

NIGHTS = [(180.34, 180.751), (185.301, 185.721), (186.29, 186.72)]
X_TICKS = [[180.4, 180.5, 180.6, 180.7], [185.4, 185.5, 185.6, 185.7], [186.4, 186.5, 186.6, 186.7]]
X_TICKTEXT = [["180.4", "180.5", "180.6", "180.7"], ["185.4", "185.5", "185.6", ""],
              ["186.4", "186.5", "186.6", ""]]

MARK = {"r": "#e41b1b", "b": "#1414bd"}
LABEL = {"r": "#c4242a", "b": "#1c1c92"}
SERIF = "Liberation Serif, Times New Roman, serif"


def fmt(v):
    return ("%.2f" % v).rstrip("0").rstrip(".")


fig = make_subplots(rows=9, cols=3, row_heights=ROW_HEIGHTS,
                    column_widths=[n[1] - n[0] for n in NIGHTS],
                    horizontal_spacing=0, vertical_spacing=0)

tickfont = dict(family=SERIF, size=15, color="black")
minor = dict(tickmode="linear", tick0=0, dtick=0.005, ticks="inside", ticklen=2,
             tickwidth=1, tickcolor="black")

for r in range(1, 10):
    data = STAR_DATA[r - 1]
    kind = STAR_KIND[r - 1]
    yr = Y_RANGES[r - 1]
    yt = Y_TICKS[r - 1]
    for c in range(1, 4):
        lo, hi = NIGHTS[c - 1]
        pts = [p for p in data if lo <= p[0] <= hi]
        fig.add_trace(go.Scatter(x=[p[0] for p in pts], y=[p[1] for p in pts], mode="markers",
                                 marker=dict(size=5.5, color=MARK[kind], line=dict(width=0)),
                                 showlegend=False, hoverinfo="skip"), row=r, col=c)
        fig.update_xaxes(range=[lo, hi], tickmode="array", tickvals=X_TICKS[c - 1],
                         ticktext=X_TICKTEXT[c - 1], showticklabels=(r == 9),
                         ticks="inside", ticklen=5, tickwidth=1.5, tickcolor="black",
                         showline=True, linewidth=1, linecolor="black", mirror="ticks",
                         showgrid=False, zeroline=False, tickfont=tickfont,
                         ticklabelstandoff=-6, row=r, col=c)
        common = dict(range=list(yr), tickmode="array", tickvals=yt, ticktext=[fmt(v) for v in yt],
                      showgrid=False, zeroline=False, tickfont=tickfont)
        if c == 1:
            fig.update_yaxes(**common, ticks="inside", ticklen=4, tickwidth=1.5, tickcolor="black",
                             showline=True, linewidth=2, linecolor="black", mirror=False,
                             minor=minor, showticklabels=True, row=r, col=c)
        elif c == 2:
            fig.update_yaxes(**common, ticks="", showline=True, linewidth=1, linecolor="#3a3a3a",
                             mirror=True, showticklabels=False, row=r, col=c)
        else:
            fig.update_yaxes(**common, side="right", ticks="inside", ticklen=4, tickwidth=1.5,
                             tickcolor="black", showline=True, linewidth=2, linecolor="black",
                             mirror=False, minor=minor, showticklabels=False, row=r, col=c)

# layout geometry (pixels)
L, R, T, B, W, H = 66, 90, 13, 45, 660, 858
PW, PH = W - L - R, H - T - B


def px_x(px):
    return (px - L) / PW


def px_y(py):
    return (H - B - py) / PH


# outer frame
fig.add_shape(type="rect", xref="paper", yref="paper", x0=0, y0=0, x1=1, y1=1,
              line=dict(color="black", width=2), layer="above")

LABEL_Y = [46, 107, 200, 294, 374, 513, 641, 700, 770]
for name, kind, py in zip(STAR_NAMES, STAR_KIND, LABEL_Y):
    fig.add_annotation(text=name, xref="paper", yref="paper", x=px_x(585), y=px_y(py),
                       xanchor="left", yanchor="middle", showarrow=False,
                       font=dict(family=SERIF, size=20, color=LABEL[kind], weight="bold"))

ytitle = "\u00a0".join("Differential") + "\u00a0" * 3 + "V" + "\u00a0" * 3 + "\u00a0".join("magnitude")
fig.add_annotation(text=ytitle, xref="paper", yref="paper", x=px_x(17.5), y=px_y(437.5),
                   xanchor="center", yanchor="middle", textangle=-90, showarrow=False,
                   font=dict(family=SERIF, size=22, color="black", weight="bold"))
fig.add_annotation(text="HJD 2452000.+", xref="paper", yref="paper", x=px_x(331), y=px_y(840),
                   xanchor="center", yanchor="middle", showarrow=False,
                   font=dict(family=SERIF, size=20, color="black", weight="bold"))

fig.update_layout(width=W, height=H, margin=dict(l=L, r=R, t=T, b=B, pad=0),
                  paper_bgcolor="white", plot_bgcolor="white", showlegend=False)

fig.write_html("out.html")
